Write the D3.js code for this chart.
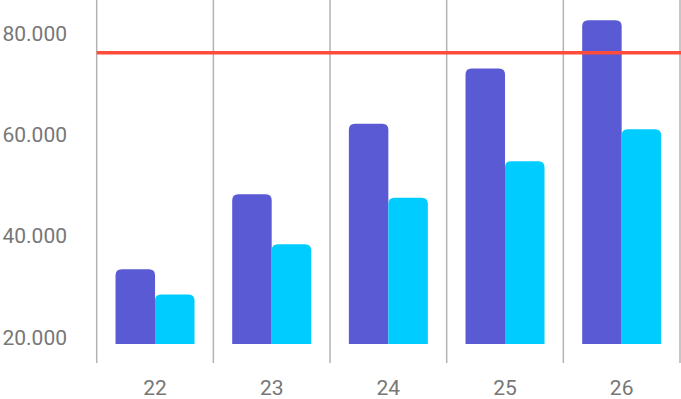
<!DOCTYPE html>
<html>
<head>
<meta charset="utf-8">
<script src="https://cdn.jsdelivr.net/npm/d3@7"></script>
<style>
  body { margin: 0; background: #fff; }
  svg { display: block; font-family: Roboto, sans-serif; }
</style>
</head>
<body>
<svg id="chart" width="681" height="399"></svg>
<script>
const categories = ["22", "23", "24", "25", "26"]
const seriesA = [33500, 48300, 62200, 73100, 82600]
const seriesB = [28500, 38400, 47600, 54800, 61100]
const yTicks = [20000, 40000, 60000, 80000]
const target = 76200
const barBase = 18750

const width = 681
const height = 399
const margin = {top: 0, right: 1, bottom: 36, left: 96.7}

const colors = ["#5a5bd4", "#00ccff"]

const svg = d3.select("#chart")

const x = d3.scaleBand()
    .domain(categories)
    .range([margin.left, width - margin.right])

const xSub = d3.scaleBand()
    .domain([0, 1])
    .range([0, x.bandwidth()])
    .paddingOuter(0.477)

const y = d3.scaleLinear()
    .domain([15000, 86600])
    .range([height - margin.bottom, margin.top])

const loc = d3.formatLocale({decimal: ",", thousands: ".", grouping: [3], currency: ["", ""]})
const fmt = loc.format(",")

// vertical grid lines at band edges
const edges = categories.map(c => x(c)).concat([x(categories[categories.length - 1]) + x.bandwidth()])
svg.append("g")
  .selectAll("line")
  .data(edges)
  .join("line")
    .attr("x1", d => d).attr("x2", d => d)
    .attr("y1", 0).attr("y2", y(15000))
    .attr("stroke", "#b3b3b3")
    .attr("stroke-width", 1.5)

// y labels
svg.append("g")
    .attr("transform", `translate(67,0)`)
    .call(d3.axisLeft(y).tickValues(yTicks).tickFormat(fmt).tickSize(0).tickPadding(0))
    .call(g => g.select(".domain").remove())
    .call(g => g.selectAll("text")
      .attr("fill", "#777")
      .attr("font-size", 21)
      .attr("font-family", "Roboto, sans-serif"))

// x labels
svg.append("g")
    .attr("transform", `translate(0,${y(15000)})`)
    .call(d3.axisBottom(x).tickSize(0).tickPadding(17))
    .call(g => g.select(".domain").remove())
    .call(g => g.selectAll("text")
      .attr("fill", "#777")
      .attr("font-size", 21)
      .attr("font-family", "Roboto, sans-serif"))

const topRounded = (x0, y0, w, h, r) =>
  `M${x0},${y0 + h}V${y0 + r}Q${x0},${y0} ${x0 + r},${y0}H${x0 + w - r}Q${x0 + w},${y0} ${x0 + w},${y0 + r}V${y0 + h}Z`

const data = categories.flatMap((c, i) => [
  {cat: c, s: 0, v: seriesA[i]},
  {cat: c, s: 1, v: seriesB[i]}
])

svg.append("g")
  .selectAll("path")
  .data(data)
  .join("path")
    .attr("fill", d => colors[d.s])
    .attr("d", d => topRounded(x(d.cat) + xSub(d.s), y(d.v), xSub.bandwidth(), y(barBase) - y(d.v), 6))

// target line
svg.append("line")
    .attr("x1", margin.left).attr("x2", width)
    .attr("y1", y(target)).attr("y2", y(target))
    .attr("stroke", "#ff4c3b")
    .attr("stroke-width", 3.5)
</script>
</body>
</html>
